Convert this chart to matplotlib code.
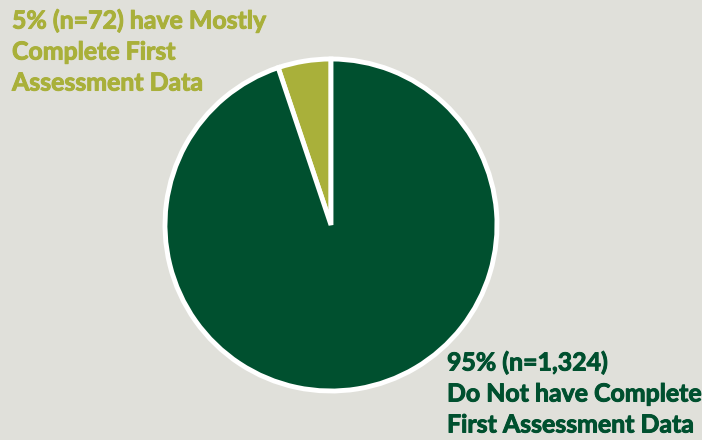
import matplotlib.pyplot as plt
import matplotlib.patheffects as pe

labels = ["Mostly Complete First Assessment Data", "Do Not have Complete First Assessment Data"]
counts = [72, 1324]
colors = ["#a9b03a", "#00502f"]
bg = "#e0e0da"

W, H = 702, 440
fig = plt.figure(figsize=(W / 100, H / 100), dpi=100, facecolor=bg)

cx, cy, r = 331, 225, 166
ax = fig.add_axes([(cx - r) / W, (H - cy - r) / H, 2 * r / W, 2 * r / H])
ax.set_facecolor(bg)
ax.pie(counts, colors=colors, startangle=90, counterclock=True,
       wedgeprops=dict(edgecolor="white", linewidth=3.5))
ax.set_xlim(-1.0, 1.0)
ax.set_ylim(-1.0, 1.0)
ax.set_aspect("equal")
ax.axis("off")

total = sum(counts)
pcts = [round(100 * c / total) for c in counts]

font = dict(family="Lato", fontweight="bold", fontsize=17.9, linespacing=1.42)
for text, x, y, color in [
    (f"{pcts[0]}% (n={counts[0]:,}) have Mostly\nComplete First\nAssessment Data", 12, 9, colors[0]),
    (f"{pcts[1]}% (n={counts[1]:,})\nDo Not have Complete\nFirst Assessment Data", 447, 351, colors[1]),
]:
    fig.text(x / W, 1 - y / H, text, color=color, ha="left", va="top",
             path_effects=[pe.withStroke(linewidth=0.7, foreground=color)], **font)

fig.savefig("out.png", dpi=100, facecolor=bg)
